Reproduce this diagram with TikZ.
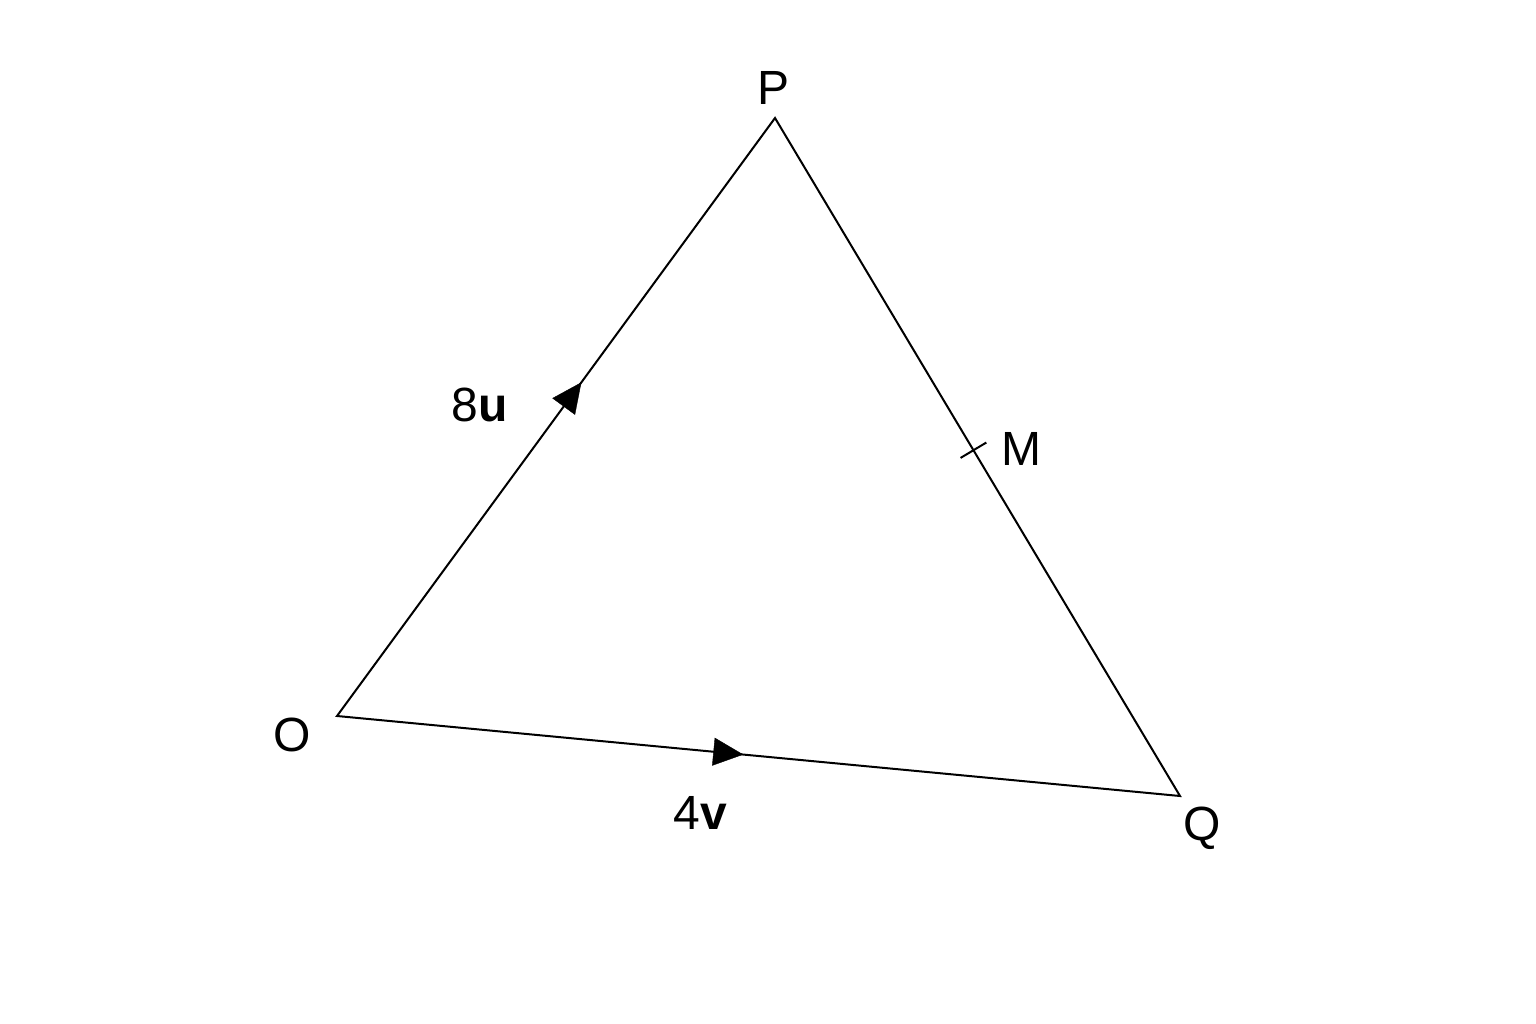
\documentclass[tikz,border=0pt]{standalone}
\usepackage{fontspec}
\setmainfont{Liberation Sans}
\usetikzlibrary{decorations.markings,arrows.meta,calc}
\begin{document}
\begin{tikzpicture}[x=1pt,y=-1pt,
  lbl/.style={font=\fontsize{48}{52}\selectfont, inner sep=0pt, anchor=center},
  edge/.style={line width=2pt, line join=miter},
  arrowat/.style={postaction={decorate, decoration={markings,
     mark=at position #1 with {\arrow{Triangle[length=30pt,width=28pt]}}}}}]
\useasboundingbox (0,0) rectangle (1536,1024);
\fill[white] (0,0) rectangle (1536,1024);
\coordinate (O) at (337,716);
\coordinate (P) at (775,118);
\coordinate (Q) at (1180,796);
\draw[edge] (O) -- (P) -- (Q) -- cycle;
\path[arrowat=0.558] (O) -- (P);
\path[arrowat=0.482] (O) -- (Q);
\coordinate (M) at ($(P)!0.49!(Q)$);
\draw[line width=2pt] ($(M)!15pt!90:(Q)$) coordinate (m1) -- ($(M)!15pt!-90:(Q)$) coordinate (m2);
\node[lbl] (lP) at (773,88) {P};
\node[lbl] (lO) at (292,735) {O};
\node[lbl] (lQ) at (1202,828) {Q};
\node[lbl] (lM) at (1021,449) {M};
\node[lbl] (l8u) at (480,405) {8\textbf{u}};
\node[lbl] (l4v) at (700,813) {4\textbf{v}};
\end{tikzpicture}
\end{document}
